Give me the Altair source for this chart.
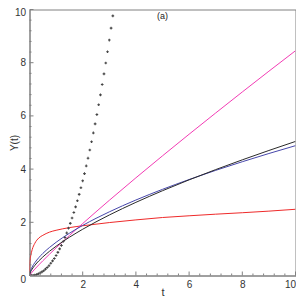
import altair as alt
import pandas as pd

# ---- data ----
t_grid = [0, 0.005, 0.02, 0.05, 0.1, 0.2, 0.35, 0.5, 0.75, 1, 1.5, 2, 2.5, 3, 4, 5, 6, 7, 8, 9, 10]
red_vals = [0, 0.40, 0.58, 0.76, 0.97, 1.21, 1.41, 1.51, 1.63, 1.70, 1.80, 1.87, 1.93, 1.99, 2.09, 2.18, 2.245, 2.305, 2.36, 2.42, 2.49]
magenta_vals = [0, 0.008, 0.03, 0.068, 0.128, 0.24, 0.40, 0.553, 0.80, 1.04, 1.504, 1.954, 2.394, 2.826, 3.672, 4.499, 5.311, 6.11, 6.90, 7.68, 8.45]
blue_vals = [0, 0.054, 0.123, 0.212, 0.320, 0.482, 0.671, 0.829, 1.053, 1.249, 1.588, 1.883, 2.149, 2.393, 2.838, 3.239, 3.608, 3.953, 4.277, 4.586, 4.881]
black_vals = [0, 0.033, 0.083, 0.152, 0.240, 0.380, 0.550, 0.696, 0.909, 1.10, 1.438, 1.739, 2.016, 2.274, 2.75, 3.187, 3.596, 3.981, 4.348, 4.70, 5.04]

dot_t = [0, 0.067, 0.133, 0.2, 0.267, 0.333, 0.4, 0.467, 0.533, 0.6, 0.667, 0.733, 0.8, 0.867, 0.933, 1.0,
         1.067, 1.133, 1.2, 1.267, 1.333, 1.4, 1.467, 1.533, 1.6, 1.667, 1.733, 1.8, 1.867, 1.933, 2.0,
         2.067, 2.133, 2.2, 2.267, 2.333, 2.4, 2.467, 2.533, 2.6, 2.667, 2.733, 2.8, 2.867, 2.933, 3.0,
         3.067, 3.133]
dot_vals = [0, 0.002, 0.008, 0.02, 0.039, 0.064, 0.096, 0.136, 0.18, 0.24, 0.30, 0.37, 0.46, 0.55, 0.64, 0.75,
            0.87, 1.00, 1.13, 1.28, 1.43, 1.60, 1.78, 1.96, 2.16, 2.37, 2.58, 2.81, 3.05, 3.30, 3.56,
            3.83, 4.12, 4.41, 4.72, 5.03, 5.36, 5.70, 6.05, 6.42, 6.79, 7.18, 7.58, 7.99, 8.41, 8.85,
            9.30, 9.76]

series_names = ["red", "magenta", "blue", "black"]
series_colors = ["#ee2a2a", "#f23cb4", "#4646aa", "#2a2a2a"]

x_label_vals = [2, 4, 6, 8, 10]
y_label_vals = [0, 2, 4, 6, 8, 10]
major_ticks = [0, 2, 4, 6, 8, 10]
minor_ticks = [0.4, 0.8, 1.2, 1.6, 2.4, 2.8, 3.2, 3.6, 4.4, 4.8, 5.2, 5.6,
               6.4, 6.8, 7.2, 7.6, 8.4, 8.8, 9.2, 9.6]
panel_title = ["(a)"]

W, H = 266, 266

rows = []
for name, vals in zip(series_names, [red_vals, magenta_vals, blue_vals, black_vals]):
    for t, v in zip(t_grid, vals):
        rows.append({"t": t, "v": v, "series": name})
lines_df = pd.DataFrame(rows)
dots_df = pd.DataFrame({"t": dot_t, "v": dot_vals})

xscale = alt.Scale(domain=[0, 10], nice=False, zero=False)
yscale = alt.Scale(domain=[0, 10], nice=False, zero=False)
xaxis = alt.Axis(values=x_label_vals, title="t", ticks=False, tickSize=0, grid=False,
                 labelPadding=4, labelFlush=True, titleBaseline="alphabetic", titleY=19.5,
                 titleFontWeight="normal", titleFontSize=11)
yaxis = alt.Axis(values=y_label_vals, title="Y(t)", ticks=False, tickSize=0, grid=False,
                 labelPadding=4, titleX=-10, titleFontWeight="normal", titleFontSize=10,
                 labelOffset={"condition": [{"test": "datum.value === 10", "value": 2.5},
                                            {"test": "datum.value === 0", "value": 3.5}],
                              "value": 0})


def X(field="t"):
    return alt.X(f"{field}:Q", scale=xscale, axis=xaxis)


def Y(field="v"):
    return alt.Y(f"{field}:Q", scale=yscale, axis=yaxis)


lines = alt.Chart(lines_df).mark_line(strokeWidth=1, interpolate="monotone", clip=True).encode(
    x=X(), y=Y(),
    color=alt.Color("series:N", scale=alt.Scale(domain=series_names, range=series_colors), legend=None),
    detail="series:N",
    order=alt.Order("t:Q"),
)

dots = alt.Chart(dots_df).mark_point(shape="cross", filled=True, size=7, color="#444444",
                                     opacity=1, clip=True).encode(x=X(), y=Y())

ymaj = alt.Chart(pd.DataFrame({"v": major_ticks})).mark_rule(color="#808080").encode(
    y=Y(), x=alt.value(0), x2=alt.value(4))
ymin = alt.Chart(pd.DataFrame({"v": minor_ticks})).mark_rule(color="#808080").encode(
    y=Y(), x=alt.value(0), x2=alt.value(2))
xmaj = alt.Chart(pd.DataFrame({"t": major_ticks})).mark_rule(color="#808080").encode(
    x=X(), y=alt.value(H), y2=alt.value(H - 4))
xmin = alt.Chart(pd.DataFrame({"t": minor_ticks})).mark_rule(color="#808080").encode(
    x=X(), y=alt.value(H), y2=alt.value(H - 2))

title = alt.Chart(pd.DataFrame({"label": panel_title})).mark_text(
    fontSize=9, font="Liberation Sans", baseline="top", align="center", color="#222222").encode(
    text="label:N", x=alt.value(W / 2), y=alt.value(2))

chart = alt.layer(lines, dots, ymaj, ymin, xmaj, xmin, title).properties(
    width=W, height=H,
    padding={"left": 21.5, "top": 1.5, "right": 0.5, "bottom": 20.5},
    autosize=alt.AutoSizeParams(type="none"),
).configure_view(stroke="#808080", strokeWidth=1).configure_axis(
    domainColor="#808080", labelColor="#333333", titleColor="#333333",
    labelFont="Liberation Sans", titleFont="Liberation Sans", labelFontSize=10,
)

chart.save("out.html", embed_options={"renderer": "svg", "actions": False})
